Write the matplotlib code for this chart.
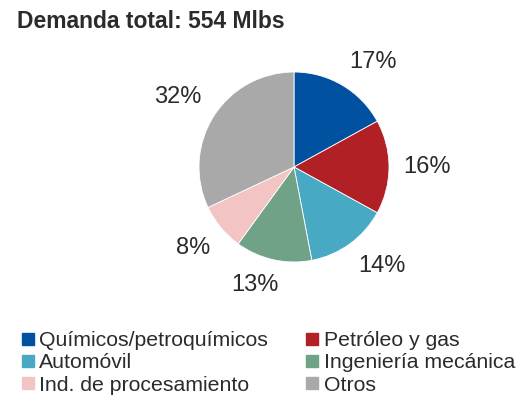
import matplotlib
matplotlib.use("Agg")
import matplotlib.pyplot as plt
import numpy as np
from matplotlib.lines import Line2D

categories = ["Químicos/petroquímicos", "Petróleo y gas", "Automóvil",
              "Ingeniería mecánica", "Ind. de procesamiento", "Otros"]
values = [17, 16, 14, 13, 8, 32]
colors = ["#0052A0", "#B02024", "#48A9C5", "#6FA287", "#F2C4C4", "#A9A9A9"]
title = "Demanda total: 554 Mlbs"

plt.rcParams['font.family'] = ['Liberation Sans', 'DejaVu Sans']
TXT = "#2b2b2b"

fig = plt.figure(figsize=(5.23, 4.04), dpi=100)
W, H = 523, 404
cx, cy, r = 294, 167, 95
ax = fig.add_axes([(cx - r) / W, 1 - (cy + r) / H, 2 * r / W, 2 * r / H])
wedges, _ = ax.pie(values, colors=colors, startangle=90, counterclock=False,
                   wedgeprops=dict(linewidth=0.6, edgecolor="white"), radius=1)
ax.set_xlim(-1, 1)
ax.set_ylim(-1, 1)
ax.set_aspect("equal")

# data labels placed "outside end" like a spreadsheet chart
renderer = fig.canvas.get_renderer()
px_per_unit = r
d = 1.15
for wdg, v in zip(wedges, values):
    th = np.deg2rad((wdg.theta1 + wdg.theta2) / 2)
    t = ax.text(0, 0, f"{v}%", fontsize=17, color=TXT, ha="center", va="center")
    bb = t.get_window_extent(renderer)
    w_u = bb.width / px_per_unit
    h_u = bb.height / px_per_unit
    ox = w_u / 2 * np.clip(np.cos(th) * 3, -1, 1)
    oy = h_u / 2 * np.clip(np.sin(th) * 3, -1, 1)
    t.set_position((d * np.cos(th) + ox, d * np.sin(th) + oy))
    t.set_clip_on(False)

fig.text(17 / W, 1 - 21 / H, title, fontsize=16.5, fontweight="bold",
         color=TXT, ha="left", va="center")

order = [0, 2, 4, 1, 3, 5]
handles = [Line2D([], [], marker="s", linestyle="none", markersize=8.3,
                  markerfacecolor=colors[i], markeredgecolor=colors[i]) for i in order]
leg = fig.legend(handles, [categories[i] for i in order], ncol=2,
                 loc="upper left", bbox_to_anchor=(19 / W, 1 - 331 / H),
                 frameon=False, fontsize=15.3, handlelength=0.8, handletextpad=0.16,
                 columnspacing=1.67, labelspacing=0.16, borderaxespad=0, borderpad=0)
for t in leg.get_texts():
    t.set_color(TXT)

fig.savefig("out.png", dpi=100)
